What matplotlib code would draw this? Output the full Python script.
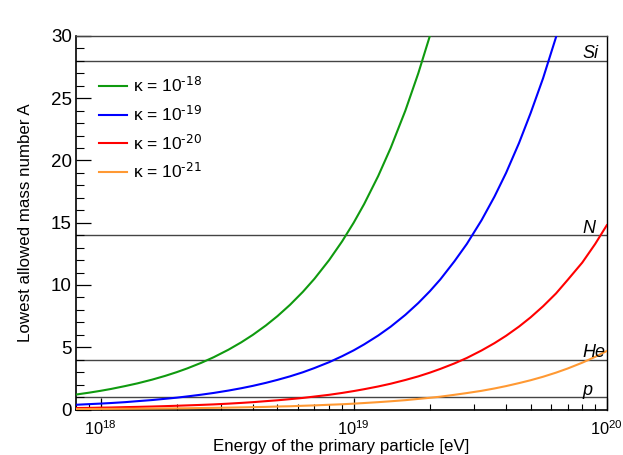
import matplotlib
matplotlib.use("Agg")
import matplotlib.pyplot as plt
from matplotlib.ticker import FixedLocator, NullFormatter, MultipleLocator

plt.rcParams["font.family"] = ["Liberation Sans", "DejaVu Sans"]
plt.rcParams["mathtext.default"] = "regular"

# ── data (energy in units of 1e18 eV) ────────────────────────────────────────
energy_1e18 = [0.8, 0.9, 1.0, 1.1, 1.25, 1.4, 1.6, 1.8, 2.0, 2.2,
               2.5, 2.8, 3.2, 3.6, 4.0, 4.5, 5.0, 5.6, 6.3, 7.0,
               8.0, 9.0, 10, 11, 12.5, 14, 16, 18, 20, 22,
               25, 28, 32, 36, 40, 45, 50, 56, 63, 70,
               80, 90, 100]

A_k18 = [1.2, 1.35, 1.5, 1.65, 1.88, 2.1, 2.4, 2.7, 3.0, 3.3,
         3.75, 4.2, 4.8, 5.4, 6.0, 6.75, 7.5, 8.4, 9.45, 10.5,
         12.0, 13.5, 15.0, 16.5, 18.75, 21.0, 24.0, 27.0, 30.0, 33.0]
A_k19 = [0.38, 0.43, 0.475, 0.52, 0.59, 0.67, 0.76, 0.86, 0.95, 1.05,
         1.19, 1.33, 1.52, 1.71, 1.9, 2.14, 2.38, 2.66, 2.99, 3.33,
         3.8, 4.28, 4.75, 5.23, 5.94, 6.65, 7.6, 8.55, 9.5, 10.45,
         11.9, 13.3, 15.2, 17.1, 19.0, 21.4, 23.8, 26.6, 29.9, 33.3]
A_k20 = [0.12, 0.13, 0.15, 0.16, 0.19, 0.21, 0.24, 0.27, 0.30, 0.33,
         0.37, 0.41, 0.47, 0.53, 0.59, 0.67, 0.74, 0.83, 0.93, 1.04,
         1.18, 1.33, 1.48, 1.63, 1.85, 2.07, 2.37, 2.66, 2.96, 3.26,
         3.7, 4.14, 4.74, 5.33, 5.92, 6.66, 7.4, 8.29, 9.32, 10.4,
         11.8, 13.3, 14.8]
A_k21 = [0.038, 0.042, 0.047, 0.052, 0.059, 0.066, 0.075, 0.085, 0.094, 0.10,
         0.12, 0.13, 0.15, 0.17, 0.19, 0.21, 0.24, 0.26, 0.30, 0.33,
         0.38, 0.42, 0.47, 0.52, 0.59, 0.66, 0.75, 0.85, 0.94, 1.03,
         1.18, 1.32, 1.50, 1.69, 1.88, 2.12, 2.35, 2.63, 2.96, 3.29,
         3.76, 4.23, 4.7]

series = [
    (A_k18, "#0f9a0f", r"κ = $10^{\text{-18}}$"),
    (A_k19, "#0000ff", r"κ = $10^{\text{-19}}$"),
    (A_k20, "#ff0000", r"κ = $10^{\text{-20}}$"),
    (A_k21, "#ff9933", r"κ = $10^{\text{-21}}$"),
]

nuclei = ["p", "He", "N", "Si"]
nuclei_A = [1, 4, 14, 28]

energy_eV = [e * 1e18 for e in energy_1e18]

# ── figure ───────────────────────────────────────────────────────────────────
fig = plt.figure(figsize=(6.23, 4.55), dpi=100)
ax = fig.add_axes([0.122, 0.1, 0.852, 0.821])

for A in nuclei_A:
    ax.axhline(A, color="#444444", lw=1.0, zorder=1)

for vals, color, lab in series:
    ax.plot(energy_eV[:len(vals)], vals, color=color, lw=1.5, label=lab, zorder=3)

for name, A in zip(nuclei, nuclei_A):
    ax.text(0.955, A + 0.2, name, transform=ax.get_yaxis_transform(),
            ha="left", va="baseline", fontsize=13, style="italic")

ax.set_xscale("log")
ax.set_xlim(8e17, 1e20)
ax.set_ylim(0, 30)

ax.xaxis.set_major_locator(FixedLocator([1e18, 1e19, 1e20]))
ax.set_xticklabels([r"$10^{18}$", r"$10^{19}$", r"$10^{20}$"])
minors = [m * 10.0 ** d for d in (17, 18, 19) for m in range(2, 10)]
ax.xaxis.set_minor_locator(FixedLocator(minors))
ax.xaxis.set_minor_formatter(NullFormatter())
ax.yaxis.set_major_locator(MultipleLocator(5))
ax.yaxis.set_minor_locator(MultipleLocator(1))

ax.tick_params(axis="x", which="major", direction="in", length=9, width=0.9,
               labelsize=11.8, pad=7, top=False)
ax.tick_params(axis="x", which="minor", direction="in", length=4.5, width=0.8, top=False)
ax.tick_params(axis="y", which="major", direction="in", length=11, width=0.9,
               labelsize=13.5, pad=3, right=False)
ax.tick_params(axis="y", which="minor", direction="in", length=5.5, width=0.8, right=False)

ax.spines["top"].set_color("#444444")
ax.spines["top"].set_linewidth(1.0)
ax.spines["right"].set_linewidth(1.0)
ax.spines["left"].set_linewidth(1.2)
ax.spines["bottom"].set_linewidth(1.2)

ax.set_xlabel("Energy of the primary particle [eV]", fontsize=12.2, labelpad=1)
ax.set_ylabel("Lowest allowed mass number A", fontsize=12.2, labelpad=13)

ax.legend(loc="upper left", bbox_to_anchor=(0.043, 0.893), frameon=False, fontsize=12.5,
          handlelength=1.6, handletextpad=0.35, labelspacing=0.53, borderaxespad=0,
          borderpad=0)

fig.savefig("out.png", dpi=100)
